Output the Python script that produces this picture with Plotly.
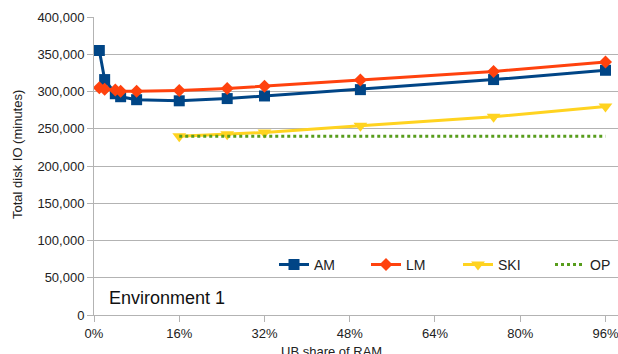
import plotly.graph_objects as go

am_x = [1, 2, 4, 5, 8, 16, 25, 32, 50, 75, 96]
am_y = [355000, 316000, 297000, 293000, 289000, 287500, 290500, 294000, 302500, 316000, 328500]

lm_x = [1, 2, 4, 5, 8, 16, 25, 32, 50, 75, 96]
lm_y = [305000, 303000, 302000, 300500, 300500, 301500, 304000, 307000, 315500, 327000, 339500]

ski_x = [16, 25, 32, 50, 75, 96]
ski_y = [240000, 242500, 245000, 254000, 266000, 280000]

op_x = [16, 96]
op_y = [240000, 240000]

x_ticks = [0, 16, 32, 48, 64, 80, 96]
x_tick_labels = ["0%", "16%", "32%", "48%", "64%", "80%", "96%"]
y_ticks = [0, 50000, 100000, 150000, 200000, 250000, 300000, 350000, 400000]

FONT = "Liberation Sans, Arial, sans-serif"

W, H = 618, 354
L, T, B = 94, 17, 39

fig = go.Figure()
fig.add_trace(go.Scatter(x=am_x, y=am_y, name="AM", mode="lines+markers",
                         line=dict(color="#004586", width=3),
                         marker=dict(symbol="square", size=11, color="#004586")))
fig.add_trace(go.Scatter(x=lm_x, y=lm_y, name="LM", mode="lines+markers",
                         line=dict(color="#ff420e", width=3),
                         marker=dict(symbol="diamond", size=10, color="#ff420e")))
fig.add_trace(go.Scatter(x=ski_x, y=ski_y, name="SKI", mode="lines+markers",
                         line=dict(color="#ffd320", width=3),
                         marker=dict(symbol="triangle-down", size=12, color="#ffd320")))
fig.add_trace(go.Scatter(x=op_x, y=op_y, name="OP", mode="lines",
                         line=dict(color="#579d1c", width=3, dash="dot")))

fig.update_layout(
    width=W, height=H,
    margin=dict(l=L, r=0, t=T, b=B, autoexpand=False),
    paper_bgcolor="white", plot_bgcolor="white",
    font=dict(family=FONT, size=13, color="#222"),
    showlegend=True,
    legend=dict(orientation="h", x=(274 - 94) / 524, y=(315.3 - 265) / 298.6,
                xanchor="left", yanchor="middle",
                bgcolor="rgba(0,0,0,0)", font=dict(size=14, color="#222"),
                entrywidth=47, entrywidthmode="pixels", tracegroupgap=0),
    xaxis=dict(range=[0, 98.35], tickvals=x_ticks, ticktext=x_tick_labels,
               showgrid=False, zeroline=False, showline=True, linecolor="#b3b3b3",
               linewidth=1, ticks="outside", ticklen=6, tickcolor="#b3b3b3",
               automargin=False, ticklabeloverflow="allow"),
    yaxis=dict(range=[0, 400000], tickvals=y_ticks, tickformat=",",
               showgrid=True, gridcolor="#b3b3b3", gridwidth=1, zeroline=False,
               showline=True, linecolor="#b3b3b3", linewidth=1,
               ticks="outside", ticklen=6, tickcolor="#b3b3b3",
               automargin=False),
    annotations=[
        dict(text="Environment 1", xref="paper", yref="paper", x=(107 - 94) / 524,
             y=(315.3 - 298) / 298.6, xanchor="left", yanchor="middle", showarrow=False,
             font=dict(size=18, color="#111")),
        dict(text="UB share of RAM", xref="paper", yref="paper", x=(331 - 94) / 524,
             y=-(352 - 315.3) / 298.6, xanchor="center", yanchor="middle", showarrow=False,
             font=dict(size=13, color="#222")),
        dict(text="Total disk IO (minutes)", xref="paper", yref="paper",
             x=-(94 - 17) / 524, y=(315.3 - 155) / 298.6, xanchor="center", yanchor="middle",
             textangle=-90, showarrow=False, font=dict(size=13, color="#222")),
    ],
)

fig.write_html(
    "out.html",
    config={"displayModeBar": False},
    post_script="document.body.style.margin='0';document.body.style.overflow='hidden';",
)
